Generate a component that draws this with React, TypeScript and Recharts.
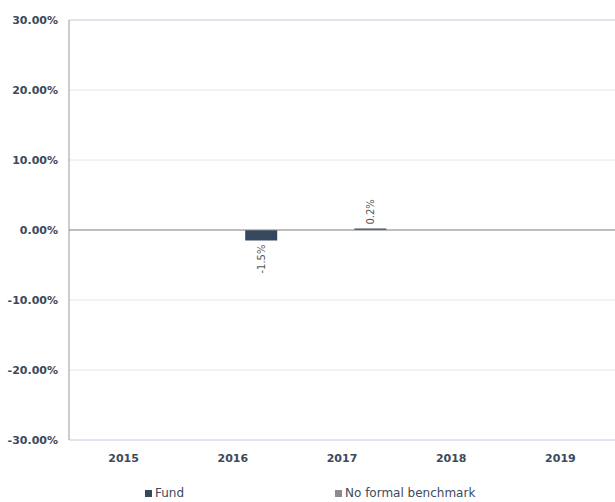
import React from "react"
import { BarChart, Bar, XAxis, YAxis, CartesianGrid, ReferenceLine, LabelList } from "recharts"

const years = ["2015", "2016", "2017", "2018", "2019"]
const fund: (number | null)[] = [null, -1.5, 0.2, null, null]
const benchmark: (number | null)[] = [null, null, null, null, null]
const yTicks = [-30, -20, -10, 0, 10, 20, 30]

const data = years.map((year, i) => ({ year, fund: fund[i], benchmark: benchmark[i] }))

const textColor = "#3b4a5c"
const fundColor = "#34495e"
const benchColor = "#8c8c8c"

const FundLabel = (props: any) => {
  const { x, y, width, height, value } = props
  if (value === null || value === undefined) return null
  const cx = x + width / 2
  const neg = value < 0
  const top = Math.min(y, y + height)
  const bottom = Math.max(y, y + height)
  const ay = neg ? bottom + 4 : top - 4
  return (
    <text
      x={cx}
      y={ay}
      transform={`rotate(-90 ${cx} ${ay})`}
      textAnchor={neg ? "end" : "start"}
      dominantBaseline="central"
      fontFamily="DejaVu Sans"
      fontSize={10}
      fill="#555"
    >
      {value.toFixed(1) + "%"}
    </text>
  )
}

const LegendItem = ({ left, color, label }: { left: number; color: string; label: string }) => (
  <div
    style={{
      position: "absolute",
      left,
      top: 486,
      whiteSpace: "nowrap",
      fontFamily: "'DejaVu Sans', sans-serif",
      fontSize: 12,
      color: textColor,
      lineHeight: "14px",
    }}
  >
    <span
      style={{
        display: "inline-block",
        width: 7,
        height: 7,
        background: color,
        marginRight: 3,
        verticalAlign: "baseline",
      }}
    />
    {label}
  </div>
)

export default function App() {
  return (
    <div style={{ position: "absolute", left: 0, top: 0, width: 615, height: 502, background: "#fff" }}>
      <BarChart
        width={615}
        height={502}
        data={data}
        margin={{ top: 20, right: 0, bottom: 0, left: 0 }}
        barSize={32}
        barGap={24}
      >
        <CartesianGrid horizontal vertical={false} stroke="#e6e6e6" />
        <XAxis
          dataKey="year"
          height={62}
          tickLine={false}
          tickSize={0}
          tickMargin={14}
          axisLine={{ stroke: "#ccd6eb" }}
          tick={{ fill: textColor, fontSize: 11, fontWeight: "bold", fontFamily: "DejaVu Sans" }}
        />
        <YAxis
          width={69}
          domain={[-30, 30]}
          ticks={yTicks}
          interval={0}
          tickLine={false}
          tickSize={0}
          tickMargin={11}
          axisLine={{ stroke: "#999" }}
          tickFormatter={(v: number) => v.toFixed(2) + "%"}
          tick={{ fill: textColor, fontSize: 11, fontWeight: "bold", fontFamily: "DejaVu Sans" }}
        />
        <ReferenceLine y={30} stroke="#ccd6eb" />
        <ReferenceLine y={0} stroke="#888" />
        <Bar dataKey="benchmark" fill={benchColor} isAnimationActive={false} />
        <Bar dataKey="fund" fill={fundColor} isAnimationActive={false}>
          <LabelList dataKey="fund" content={FundLabel} />
        </Bar>
      </BarChart>
      <LegendItem left={145} color={fundColor} label="Fund" />
      <LegendItem left={335} color={benchColor} label="No formal benchmark" />
    </div>
  )
}
